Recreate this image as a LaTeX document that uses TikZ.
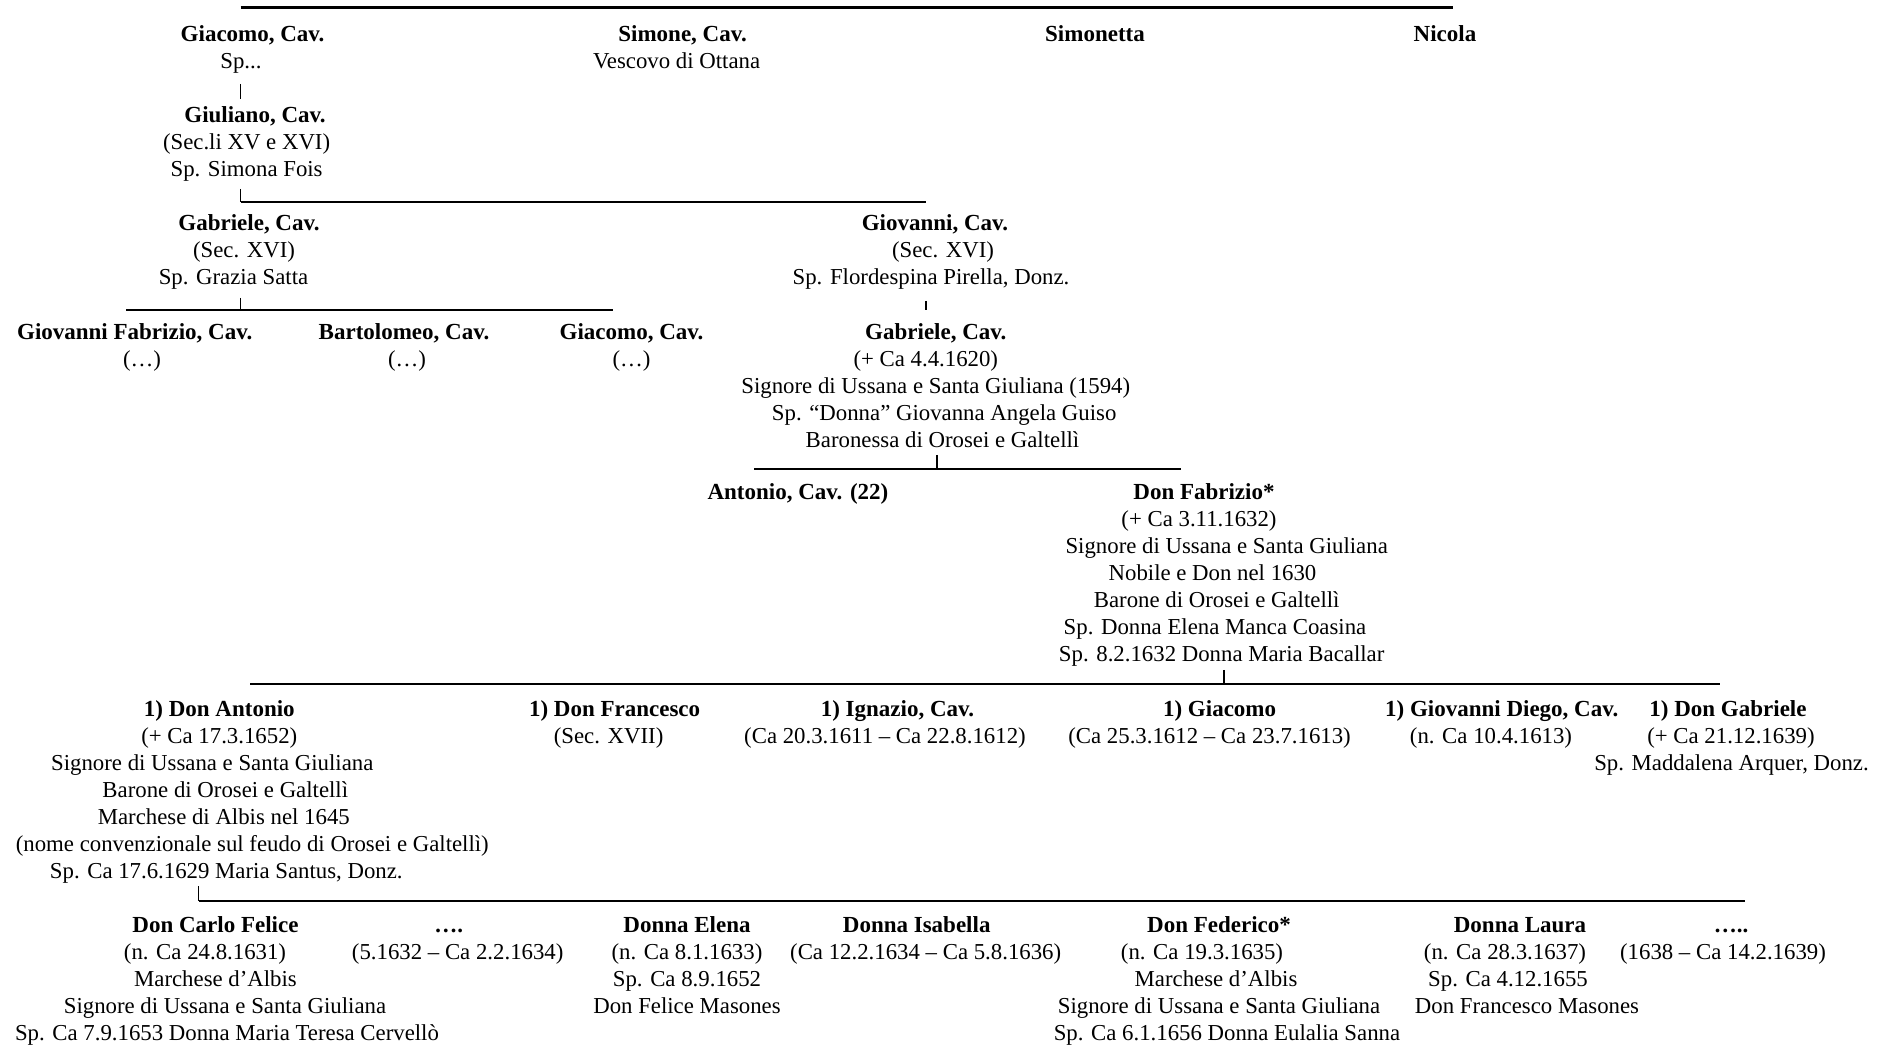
\documentclass[tikz,border=0pt]{standalone}
\usepackage{fontspec}
\setmainfont{Liberation Serif}
\newdimen\pxu \pxu=0.5pt
\newcommand{\nm}[1]{{\fontsize{11.5}{13.5}\selectfont\bfseries\strut #1}}
\newcommand{\sh}[2]{\hbox{\kern#1\pxu #2\kern-#1\pxu}}
\tikzset{
  person/.style={anchor=north, inner sep=0pt, align=center, font=\fontsize{11.4}{13.5}\selectfont},
  topbar/.style={line width=1.35pt},
  bar/.style={line width=1pt},
  tick/.style={line width=0.7pt},
}
\begin{document}
\begin{tikzpicture}[x=0.5pt,y=-0.5pt]
\useasboundingbox (0,0) rectangle (1886,1047);
% generation 1 (baseline 41)
\node[person] (giacomo) at (252.6,22.1) {\nm{Giacomo, Cav.}\\\sh{-11.6}{Sp...}};
\node[person] (simone) at (682.6,22.1) {\nm{Simone, Cav.}\\\sh{-6}{Vescovo di Ottana}};
\node[person] (simonetta) at (1095,22.1) {\nm{Simonetta}};
\node[person] (nicola) at (1445,22.1) {\nm{Nicola}};
% generation 2 (baseline 122)
\node[person] (giuliano) at (255,103.1) {\nm{Giuliano, Cav.}\\\sh{-8.4}{(Sec.li XV e XVI)}\\\sh{-8.4}{Sp. Simona Fois}};
% generation 3 (baseline 230)
\node[person] (gabriele) at (249,211.1) {\nm{Gabriele, Cav.}\\\sh{-5}{(Sec. XVI)}\\\sh{-15.5}{Sp. Grazia Satta}};
\node[person] (giovanni) at (935,211.1) {\nm{Giovanni, Cav.}\\\sh{8}{(Sec. XVI)}\\\sh{-4}{Sp. Flordespina Pirella, Donz.}};
% generation 4 (baseline 339.5)
\node[person] (giovfab) at (134.7,320.6) {\nm{Giovanni Fabrizio, Cav.}\\\sh{7.3}{(…)}};
\node[person] (bartolomeo) at (404,320.6) {\nm{Bartolomeo, Cav.}\\\sh{3}{(…)}};
\node[person] (giacomob) at (631.5,320.6) {\nm{Giacomo, Cav.}\\(…)};
\node[person] (gabrieleb) at (935.8,320.6) {\nm{Gabriele, Cav.}\\\sh{-10}{(+ Ca 4.4.1620)}\\Signore di Ussana e Santa Giuliana (1594)\\\sh{8.4}{Sp. “Donna” Giovanna Angela Guiso}\\\sh{6.7}{Baronessa di Orosei e Galtellì}};
% generation 5 (baseline 499.5)
\node[person] (antonio) at (798,480.6) {\nm{Antonio, Cav. (22)}};
\node[person] (fabrizio) at (1204,480.6) {\nm{Don Fabrizio*}\\\sh{-5}{(+ Ca 3.11.1632)}\\\sh{22.7}{Signore di Ussana e Santa Giuliana}\\\sh{8.5}{Nobile e Don nel 1630}\\\sh{12.7}{Barone di Orosei e Galtellì}\\\sh{11}{Sp. Donna Elena Manca Coasina}\\\sh{17.7}{Sp. 8.2.1632 Donna Maria Bacallar}};
% generation 6 (baseline 716)
\node[person] (donantonio) at (219.3,697.1) {\nm{1) Don Antonio}\\(+ Ca 17.3.1652)\\\sh{-7}{Signore di Ussana e Santa Giuliana}\\\sh{6}{Barone di Orosei e Galtellì}\\\sh{4.5}{Marchese di Albis nel 1645}\\\sh{33}{(nome convenzionale sul feudo di Orosei e Galtellì)}\\\sh{7}{Sp. Ca 17.6.1629 Maria Santus, Donz.}};
\node[person] (donfrancesco) at (614.6,697.1) {\nm{1) Don Francesco}\\\sh{-6}{(Sec. XVII)}};
\node[person] (ignazio) at (897.5,697.1) {\nm{1) Ignazio, Cav.}\\\sh{-12.5}{(Ca 20.3.1611 – Ca 22.8.1612)}};
\node[person] (giacomoc) at (1219.6,697.1) {\nm{1) Giacomo}\\\sh{-10}{(Ca 25.3.1612 – Ca 23.7.1613)}};
\node[person] (giovdiego) at (1501.7,697.1) {\nm{1) Giovanni Diego, Cav.}\\\sh{-10.7}{(n. Ca 10.4.1613)}};
\node[person] (dongabriele) at (1728,697.1) {\nm{1) Don Gabriele}\\\sh{3}{(+ Ca 21.12.1639)}\\\sh{3.5}{Sp. Maddalena Arquer, Donz.}};
% generation 7 (baseline 932.5)
\node[person] (carlofelice) at (215.5,913.6) {\nm{Don Carlo Felice}\\\sh{-10.5}{(n. Ca 24.8.1631)}\\Marchese d’Albis\\\sh{9.5}{Signore di Ussana e Santa Giuliana}\\\sh{11.5}{Sp. Ca 7.9.1653 Donna Maria Teresa Cervellò}};
\node[person] (dotsa) at (448.7,913.6) {\nm{….}\\\sh{9}{(5.1632 – Ca 2.2.1634)}};
\node[person] (elena) at (687,913.6) {\nm{Donna Elena}\\(n. Ca 8.1.1633)\\Sp. Ca 8.9.1652\\Don Felice Masones};
\node[person] (isabella) at (916.7,913.6) {\nm{Donna Isabella}\\\sh{9}{(Ca 12.2.1634 – Ca 5.8.1636)}};
\node[person] (federico) at (1219,913.6) {\nm{Don Federico*}\\\sh{-17}{(n. Ca 19.3.1635)}\\\sh{-3}{Marchese d’Albis}\\Signore di Ussana e Santa Giuliana\\\sh{8}{Sp. Ca 6.1.1656 Donna Eulalia Sanna}};
\node[person] (laura) at (1520,913.6) {\nm{Donna Laura}\\\sh{-15}{(n. Ca 28.3.1637)}\\\sh{-12}{Sp. Ca 4.12.1655}\\\sh{7}{Don Francesco Masones}};
\node[person] (dotsb) at (1731,913.6) {\nm{…..}\\\sh{-8}{(1638 – Ca 14.2.1639)}};
% connector coordinates
\coordinate (topL) at (240.6,7.5);
\coordinate (topR) at (1453,7.5);
\coordinate (gA) at (240.6,84);
\coordinate (gB) at (240.6,99);
\coordinate (uA) at (240.6,189);
\coordinate (uB) at (240.6,202);
\coordinate (uC) at (926,202);
\coordinate (bA) at (240.6,298);
\coordinate (bB) at (240.6,310);
\coordinate (bL) at (126,310);
\coordinate (bR) at (613,310);
\coordinate (vA) at (926,301);
\coordinate (vB) at (926,310);
\coordinate (cA) at (937,455);
\coordinate (cB) at (937,469);
\coordinate (cL) at (754,469);
\coordinate (cR) at (1181,469);
\coordinate (fA) at (1224,670);
\coordinate (fB) at (1224,684);
\coordinate (fL) at (250,684);
\coordinate (fR) at (1720,684);
\coordinate (aA) at (198.5,886);
\coordinate (aB) at (198.5,901);
\coordinate (aR) at (1745,901);
% connectors
\draw[topbar] (topL) -- (topR);
\draw[tick] (gA) -- (gB);
\draw[tick] (uA) -- (uB);
\draw[bar] (uB) -- (uC);
\draw[tick] (bA) -- (bB);
\draw[bar] (bL) -- (bR);
\draw[tick] (vA) -- (vB);
\draw[tick] (cA) -- (cB);
\draw[bar] (cL) -- (cR);
\draw[tick] (fA) -- (fB);
\draw[bar] (fL) -- (fR);
\draw[tick] (aA) -- (aB);
\draw[bar] (aB) -- (aR);
\end{tikzpicture}
\end{document}
